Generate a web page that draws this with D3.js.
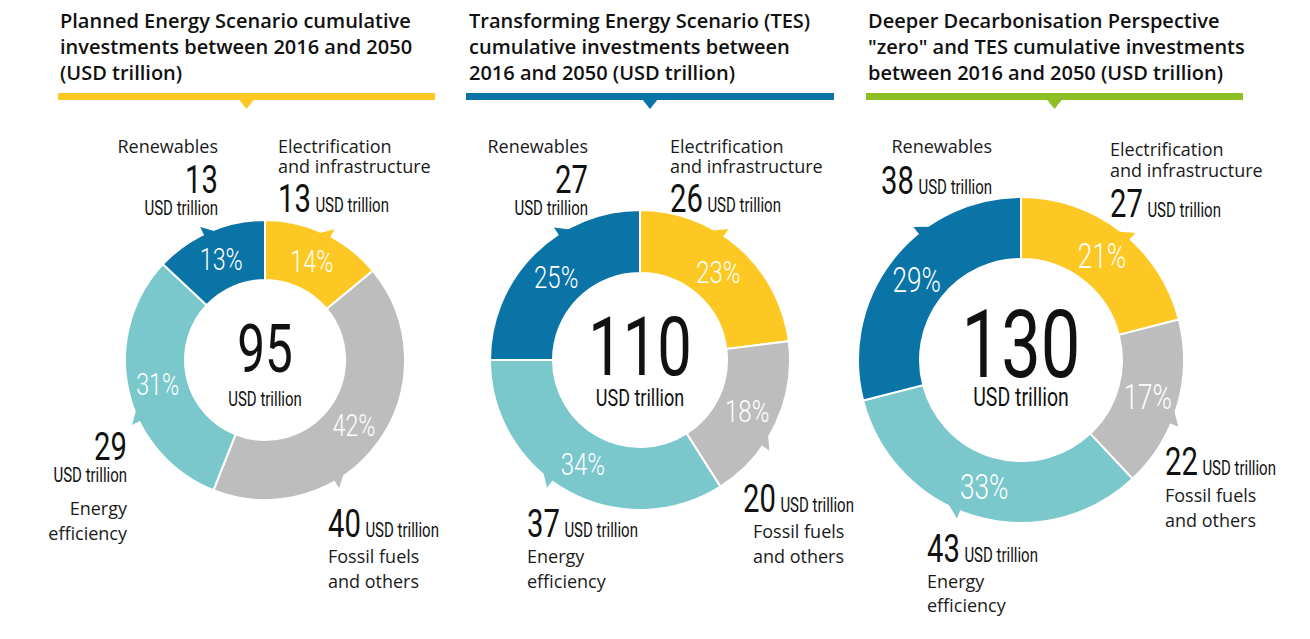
<!DOCTYPE html>
<html>
<head>
<meta charset="utf-8">
<script src="https://cdn.jsdelivr.net/npm/d3@7/dist/d3.min.js"></script>
<style>
    html, body { margin: 0; padding: 0; background: #fff; }
    #chart { width: 1310px; height: 639px; }
    .title { font-family: 'Open Sans', sans-serif; font-weight: 600; font-size: 20px; fill: #111; }
    .cat-name { font-family: 'Open Sans', sans-serif; font-size: 18px; fill: #1a1a1a; }
    .cond { font-family: Roboto, sans-serif; fill: #111; }
    .pct { font-family: Roboto, sans-serif; font-weight: 300; fill: #fff; }
</style>
</head>
<body>
<div id="chart"></div>
<script>

// data (USD trillion, cumulative 2016-2050)
const categories = ['Electrification and infrastructure', 'Fossil fuels and others', 'Energy efficiency', 'Renewables'];
const categoryLines = [['Electrification', 'and infrastructure'], ['Fossil fuels', 'and others'], ['Energy', 'efficiency'], ['Renewables']];
const unitLabel = 'USD trillion';

const titles = [
    ['Planned Energy Scenario cumulative', 'investments between 2016 and 2050', '(USD trillion)'],
    ['Transforming Energy Scenario (TES)', 'cumulative investments between', '2016 and 2050 (USD trillion)'],
    ['Deeper Decarbonisation Perspective', '"zero" and TES cumulative investments', 'between 2016 and 2050 (USD trillion)']
];
const totals = [95, 110, 130];

const pesValues = [13, 40, 29, 13];
const pesShares = [14, 42, 31, 13];
const tesValues = [26, 20, 37, 27];
const tesShares = [23, 18, 34, 25];
const ddpValues = [27, 22, 43, 38];
const ddpShares = [21, 17, 33, 29];

const sliceColors = ['#FDC823', '#BDBDBD', '#7AC7CC', '#0B74A6'];
const barColors = ['#FDC823', '#0B74A6', '#8DBF24'];

const COND = 0.75; // horizontal squeeze to fake a condensed face

// layout per panel
const panels = [
    {
        values: pesValues, shares: pesShares, total: totals[0], title: titles[0], barColor: barColors[0],
        cx: 265, cy: 360, rOuter: 140, rInner: 80, titleX: 60, barX: 58, barW: 377,
        centerSize: 66, centerY: 12, centerUnitSize: 20, pctSize: 31,
        notches: [28, 150, 244, 334],
        labels: [
            {x: 13, anchor: 'start', rows: [{t: 'name', y: -207, i: 0}, {t: 'name', y: -187, i: 1}, {t: 'numunit', y: -148}]},
            {x: 63, anchor: 'start', rows: [{t: 'numunit', y: 177}, {t: 'name', y: 203, i: 0}, {t: 'name', y: 228, i: 1}]},
            {x: -138, anchor: 'end', rows: [{t: 'num', y: 100}, {t: 'unit', y: 122}, {t: 'name', y: 155, i: 0}, {t: 'name', y: 180, i: 1}]},
            {x: -47, anchor: 'end', rows: [{t: 'name', y: -207, i: 0}, {t: 'num', y: -167}, {t: 'unit', y: -145}]}
        ]
    },
    {
        values: tesValues, shares: tesShares, total: totals[1], title: titles[1], barColor: barColors[1],
        cx: 640, cy: 360, rOuter: 150, rInner: 87, titleX: 469, barX: 466, barW: 368,
        centerSize: 82, centerY: 15, centerUnitSize: 24, pctSize: 32,
        notches: [34, 125, 216, 327],
        labels: [
            {x: 30, anchor: 'start', rows: [{t: 'name', y: -207, i: 0}, {t: 'name', y: -187, i: 1}, {t: 'numunit', y: -148}]},
            {x: 103, anchor: 'start', rows: [{t: 'numunit', y: 152}, {t: 'name', y: 178, i: 0, dx: 10}, {t: 'name', y: 203, i: 1, dx: 10}]},
            {x: -113, anchor: 'start', rows: [{t: 'numunit', y: 177}, {t: 'name', y: 203, i: 0}, {t: 'name', y: 228, i: 1}]},
            {x: -52, anchor: 'end', rows: [{t: 'name', y: -207, i: 0}, {t: 'num', y: -167}, {t: 'unit', y: -145}]}
        ]
    },
    {
        values: ddpValues, shares: ddpShares, total: totals[2], title: titles[2], barColor: barColors[2],
        cx: 1021, cy: 360, rOuter: 163, rInner: 101, titleX: 868, barX: 866, barW: 377,
        centerSize: 94, centerY: 17, centerUnitSize: 26, pctSize: 35,
        notches: [42, 113, 202, 321],
        labels: [
            {x: 89, anchor: 'start', rows: [{t: 'name', y: -204, i: 0}, {t: 'name', y: -183, i: 1}, {t: 'numunit', y: -143}]},
            {x: 144, anchor: 'start', rows: [{t: 'numunit', y: 115}, {t: 'name', y: 142, i: 0}, {t: 'name', y: 167, i: 1}]},
            {x: -94, anchor: 'start', rows: [{t: 'numunit', y: 202}, {t: 'name', y: 228, i: 0}, {t: 'name', y: 252, i: 1}]},
            {x: -29, anchor: 'end', rows: [{t: 'name', y: -207, i: 0}, {t: 'numunit', y: -166}]}
        ]
    }
];

const notchSide = [-1, -1, 1, 1];
const NUM_SIZE = 39, UNIT_SIZE = 20;

const svg = d3.select('#chart').append('svg')
    .attr('width', 1310)
    .attr('height', 639);

function condText(parent, x, y, anchor) {
    return parent.append('text')
        .attr('class', 'cond')
        .attr('text-anchor', anchor)
        .attr('transform', `translate(${x},${y}) scale(${COND},1)`);
}

function polar(r, deg) {
    const a = deg * Math.PI / 180;
    return [r * Math.sin(a), -r * Math.cos(a)];
}

panels.forEach(p => {

    // title + coloured bar with pointer
    const head = svg.append('g');
    head.selectAll('text.title').data(p.title)
        .enter()
        .append('text')
        .attr('class', 'title')
        .attr('x', p.titleX)
        .attr('y', (d, i) => 28 + i * 26)
        .text(d => d);

    head.append('rect')
        .attr('x', p.barX)
        .attr('y', 93)
        .attr('width', p.barW)
        .attr('height', 7)
        .attr('fill', p.barColor);

    const mx = p.barX + p.barW / 2;
    head.append('path')
        .attr('d', `M${mx - 8},99 L${mx + 8},99 L${mx},109 Z`)
        .attr('fill', p.barColor);

    // donut
    const g = svg.append('g').attr('transform', `translate(${p.cx},${p.cy})`);

    const pie = d3.pie().sort(null).value(d => d.share);
    const arc = d3.arc().innerRadius(p.rInner).outerRadius(p.rOuter);
    const labelArc = d3.arc().innerRadius((p.rInner + p.rOuter) / 2).outerRadius((p.rInner + p.rOuter) / 2);

    const rows = categories.map((c, i) => ({cat: c, share: p.shares[i], value: p.values[i], i: i}));
    const arcs = pie(rows);

    g.selectAll('path.slice').data(arcs)
        .enter()
        .append('path')
        .attr('class', 'slice')
        .attr('d', arc)
        .attr('fill', d => sliceColors[d.data.i])
        .attr('stroke', '#fff')
        .attr('stroke-width', 2);

    // little pointer tabs on the outer edge, drawn over the slice outline
    g.selectAll('path.notch').data(arcs)
        .enter()
        .append('path')
        .attr('class', 'notch')
        .attr('fill', d => sliceColors[d.data.i])
        .attr('d', d => {
            const deg = p.notches[d.data.i];
            const s = notchSide[d.data.i];
            const a = polar(p.rOuter - 4, deg);
            const tip = polar(p.rOuter + 8, deg);
            const b = polar(p.rOuter - 4, deg + s * 6);
            return `M${a[0]},${a[1]} L${tip[0]},${tip[1]} L${b[0]},${b[1]} Z`;
        });

    arcs.forEach(d => {
        const c = labelArc.centroid(d);
        condText(g, c[0], c[1] + p.pctSize * 0.36, 'middle')
            .attr('class', 'pct')
            .style('font-size', p.pctSize + 'px')
            .text(d.data.share + '%');
    });

    // centre total
    condText(g, 0, p.centerY, 'middle')
        .style('font-size', p.centerSize + 'px')
        .text(p.total);
    condText(g, 0, 46, 'middle')
        .style('font-size', p.centerUnitSize + 'px')
        .text(unitLabel);

    // category labels
    p.labels.forEach((lab, ci) => {
        lab.rows.forEach(r => {
            const x = lab.x + (r.dx || 0);
            if (r.t === 'name') {
                g.append('text')
                    .attr('class', 'cat-name')
                    .attr('x', x)
                    .attr('y', r.y)
                    .attr('text-anchor', lab.anchor)
                    .text(categoryLines[ci][r.i]);
            } else if (r.t === 'num') {
                condText(g, x, r.y, lab.anchor)
                    .style('font-size', NUM_SIZE + 'px')
                    .text(p.values[ci]);
            } else if (r.t === 'unit') {
                condText(g, x, r.y, lab.anchor)
                    .style('font-size', UNIT_SIZE + 'px')
                    .text(unitLabel);
            } else {
                const t = condText(g, x, r.y, lab.anchor);
                t.append('tspan').style('font-size', NUM_SIZE + 'px').text(p.values[ci]);
                t.append('tspan').attr('dx', 6).style('font-size', UNIT_SIZE + 'px').text(unitLabel);
            }
        });
    });
});

</script>
</body>
</html>
